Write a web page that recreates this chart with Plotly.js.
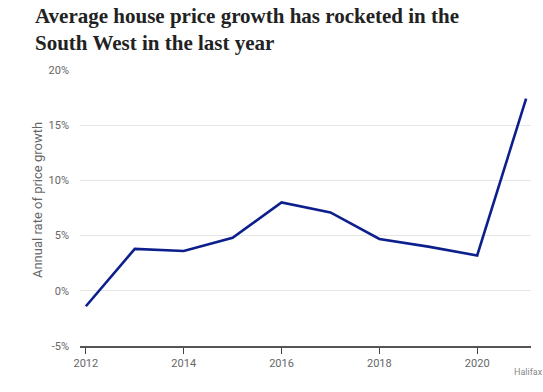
<!DOCTYPE html>
<html><head><meta charset="utf-8">
<script src="https://cdn.plot.ly/plotly-3.0.1.min.js"></script>
<style>html,body{margin:0;padding:0;background:#fff}#chart{width:543px;height:392px}</style>
</head><body><div id="chart"></div>
<script>
const years = [2012, 2013, 2014, 2015, 2016, 2017, 2018, 2019, 2020, 2021];
const growth = [-1.4, 3.8, 3.6, 4.8, 8.0, 7.1, 4.7, 4.0, 3.2, 17.4];
const yTicks = [-5, 0, 5, 10, 15, 20];
const yTickLabels = ['-5%', '0%', '5%', '10%', '15%', '20%'];
const xTicks = [2012, 2014, 2016, 2018, 2020];

const sans = 'Roboto, "Liberation Sans Narrow", sans-serif';
const tickFont = {family: sans, size: 11, color: '#666'};

Plotly.newPlot('chart', [{
  x: years, y: growth, type: 'scatter', mode: 'lines',
  line: {color: '#0d1f8c', width: 2.6},
  hoverinfo: 'skip'
}], {
  width: 543, height: 392,
  margin: {l: 80, r: 12, t: 70, b: 46},
  paper_bgcolor: '#fff', plot_bgcolor: '#fff',
  showlegend: false,
  xaxis: {
    range: [2011.88, 2021.1],
    tickvals: xTicks, ticktext: xTicks.map(String),
    showgrid: false, zeroline: false,
    showline: true, linecolor: '#555', linewidth: 1.5,
    ticks: 'outside', ticklen: 6, tickcolor: '#444', tickwidth: 1,
    tickfont: tickFont, fixedrange: true
  },
  yaxis: {
    range: [-5, 20],
    tickvals: yTicks, ticktext: yTickLabels,
    showgrid: true, gridcolor: '#e6e6e6', gridwidth: 1,
    zeroline: false, showline: false, ticks: '', ticklabelstandoff: 10,
    tickfont: tickFont, fixedrange: true
  },
  annotations: [{
    text: 'Average house price growth has rocketed in the<br>South West in the last year',
    xref: 'paper', yref: 'paper', x: -0.104, y: 1.245, xanchor: 'left', yanchor: 'top', align: 'left',
    showarrow: false,
    font: {family: 'Liberation Serif, DejaVu Serif, serif', size: 21, color: '#222', weight: 'bold'}
  }, {
    text: 'Annual rate of price growth', textangle: -90,
    xref: 'paper', yref: 'paper', x: -0.093, y: 0.529, xanchor: 'center', yanchor: 'middle',
    showarrow: false,
    font: {family: sans, size: 13, color: '#666'}
  }, {
    text: 'Halifax', xref: 'paper', yref: 'paper', x: 1.03, y: -0.07,
    xanchor: 'right', yanchor: 'top', showarrow: false,
    font: {family: sans, size: 9, color: '#888'}
  }]
}, {displayModeBar: false, staticPlot: true});
</script></body></html>
